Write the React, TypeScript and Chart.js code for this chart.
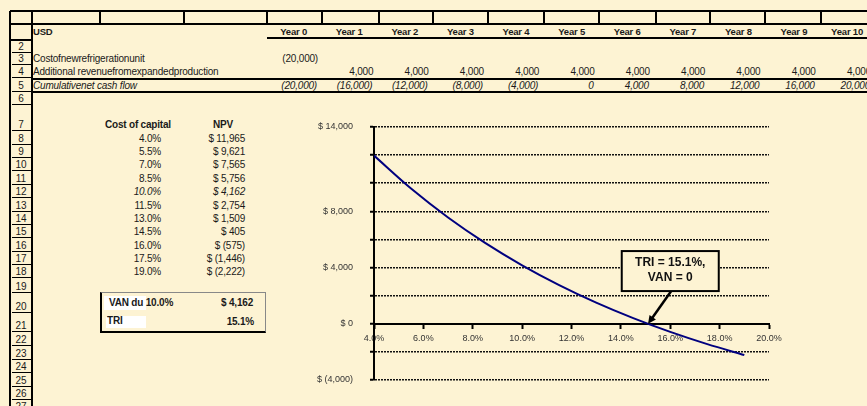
import React, { useEffect, useRef } from "react";
import { Chart, registerables } from "chart.js";

Chart.register(...registerables);

const BG = "#FDF3D3";
const FONT = 'Arial, "Liberation Sans", sans-serif';
const INK = "#1a1a1a";

// ---------- data ----------
const yearLabels = ["Year 0", "Year 1", "Year 2", "Year 3", "Year 4", "Year 5", "Year 6", "Year 7", "Year 8", "Year 9", "Year 10"];
const unitCost: (number | null)[] = [-20000, null, null, null, null, null, null, null, null, null, null];
const addRevenue: (number | null)[] = [null, 4000, 4000, 4000, 4000, 4000, 4000, 4000, 4000, 4000, 4000];
const cumulativeCF = [-20000, -16000, -12000, -8000, -4000, 0, 4000, 8000, 12000, 16000, 20000];
const rowTitles = ["USD", "Costofnewrefrigerationunit", "Additional revenuefromexpandedproduction", "Cumulativenet cash flow"];

const rates = [4.0, 5.5, 7.0, 8.5, 10.0, 11.5, 13.0, 14.5, 16.0, 17.5, 19.0];
const npvValues = [11965, 9621, 7565, 5756, 4162, 2754, 1509, 405, -575, -1446, -2222];
const shownYTicks = [14000, 8000, 4000, 0, -4000];
const vanRate = 10.0;
const vanValue = 4162;
const irr = 15.1;
const noteLines = ["TRI = 15.1%,", "VAN = 0"];

// ---------- layout ----------
const ROW_Y: Record<number, number> = {
  2: 47, 3: 59, 4: 72, 5: 86, 6: 99, 7: 125, 8: 139, 9: 152, 10: 165, 11: 179, 12: 192,
  13: 206, 14: 219, 15: 232, 16: 246, 17: 259, 18: 272, 19: 287, 20: 307, 21: 326,
  22: 340, 23: 354, 24: 367, 25: 381, 26: 394, 27: 407,
};
const HEADER_DIVIDERS = [32, 100, 184, 267, 322, 379, 433, 488, 544, 599, 656, 710, 765, 821];

function fmtParen(v: number) {
  const s = Math.abs(v).toLocaleString("en-US");
  return v < 0 ? `(${s})` : s;
}
function fmtDollar(v: number) {
  return "$ " + fmtParen(v);
}

type TxtProps = { x: number; y: number; text: string; align?: "left" | "right" | "center"; bold?: boolean; italic?: boolean; size?: number; color?: string; ls?: number };
function Txt({ x, y, text, align = "left", bold, italic, size = 10, color = INK, ls = -0.2 }: TxtProps) {
  const w = 300;
  const left = align === "left" ? x : align === "right" ? x - w : x - w / 2;
  return (
    <div
      style={{
        position: "absolute", left, top: y - 7, width: w, height: 14, lineHeight: "14px",
        textAlign: align, fontSize: size, fontWeight: bold ? "bold" : "normal",
        fontStyle: italic ? "italic" : "normal", color, whiteSpace: "nowrap", fontFamily: FONT,
        letterSpacing: ls,
      }}
    >
      {text}
    </div>
  );
}
function HL({ x1, x2, y, w = 2, c = "#000" }: { x1: number; x2: number; y: number; w?: number; c?: string }) {
  return <div style={{ position: "absolute", left: x1, top: y - w / 2, width: x2 - x1, height: w, background: c }} />;
}
function VL({ x, y1, y2, w = 2, c = "#000" }: { x: number; y1: number; y2: number; w?: number; c?: string }) {
  return <div style={{ position: "absolute", left: x - w / 2, top: y1, width: w, height: y2 - y1, background: c }} />;
}

const notePlugin = {
  id: "irrNote",
  afterDatasetsDraw(chart: any) {
    const { ctx, scales } = chart;
    const xs = scales.x, ys = scales.y;
    const tipX = xs.getPixelForValue(irr);
    const tipY = ys.getPixelForValue(0);
    const cx = xs.getPixelForValue(16.0);
    const cy = ys.getPixelForValue(3750);
    const bw = 97, bh = 40;
    ctx.save();
    const sx = cx + 1, sy = cy + bh / 2;
    const ang = Math.atan2(tipY - sy, tipX - sx);
    const headLen = 9;
    const ex = tipX - Math.cos(ang) * headLen * 0.8;
    const ey = tipY - Math.sin(ang) * headLen * 0.8;
    ctx.strokeStyle = "#000";
    ctx.lineWidth = 2.5;
    ctx.beginPath();
    ctx.moveTo(sx, sy);
    ctx.lineTo(ex, ey);
    ctx.stroke();
    ctx.fillStyle = "#000";
    ctx.beginPath();
    ctx.moveTo(tipX, tipY);
    ctx.lineTo(tipX - Math.cos(ang - 0.45) * headLen, tipY - Math.sin(ang - 0.45) * headLen);
    ctx.lineTo(tipX - Math.cos(ang + 0.45) * headLen, tipY - Math.sin(ang + 0.45) * headLen);
    ctx.closePath();
    ctx.fill();
    ctx.fillStyle = BG;
    ctx.fillRect(cx - bw / 2, cy - bh / 2, bw, bh);
    ctx.lineWidth = 2;
    ctx.strokeRect(cx - bw / 2, cy - bh / 2, bw, bh);
    ctx.fillStyle = "#111";
    ctx.font = `bold 12px ${FONT}`;
    ctx.textAlign = "center";
    ctx.textBaseline = "middle";
    ctx.fillText(noteLines[0], cx, cy - 8);
    ctx.fillText(noteLines[1], cx, cy + 7);
    ctx.restore();
  },
};

function NpvChart() {
  const ref = useRef<HTMLCanvasElement>(null);
  useEffect(() => {
    if (!ref.current) return;
    const chart = new Chart(ref.current, {
      type: "line",
      data: {
        datasets: [
          {
            data: rates.map((r, i) => ({ x: r, y: npvValues[i] })),
            borderColor: "#00007F",
            borderWidth: 2,
            pointRadius: 0,
            cubicInterpolationMode: "monotone",
            fill: false,
          },
        ],
      },
      options: {
        animation: false,
        responsive: false,
        events: [],
        layout: { padding: { left: 314, top: 127, right: 98, bottom: 26 } },
        plugins: { legend: { display: false }, tooltip: { enabled: false } },
        scales: {
          x: {
            type: "linear",
            position: { y: 0 } as any,
            min: 4,
            max: 20,
            border: { display: true, color: "#000", width: 2 },
            grid: { drawOnChartArea: false, drawTicks: true, tickLength: 4, tickColor: "#000", tickWidth: 2 },
            ticks: {
              stepSize: 2,
              autoSkip: false,
              maxRotation: 0,
              padding: 5,
              color: "#333",
              font: { family: FONT, size: 9 },
              callback: (v: any) => Number(v).toFixed(1) + "%",
            },
          },
          y: {
            type: "linear",
            min: -4000,
            max: 14000,
            afterFit: (s: any) => { s.width = 60; },
            border: { display: true, color: "#000", width: 2, dash: [2, 1] },
            grid: {
              color: "#111",
              lineWidth: 1.5,
              drawTicks: true,
              tickLength: 4,
              tickColor: "#000",
              tickWidth: 2,
              tickBorderDash: [],
            },
            ticks: {
              stepSize: 2000,
              autoSkip: false,
              padding: 17,
              color: "#333",
              font: { family: FONT, size: 9 },
              callback: (v: any) => (shownYTicks.includes(Number(v)) ? fmtDollar(Number(v)) : ""),
            },
          },
        },
      },
      plugins: [notePlugin],
    } as any);
    return () => chart.destroy();
  }, []);
  return <canvas ref={ref} width={867} height={406} style={{ position: "absolute", left: 0, top: 0, width: 867, height: 406 }} />;
}

export default function App() {
  const colHeaderRight = (i: number) => 307 + i * 55.6;
  const colValueRight = (i: number) => 318 + i * 55.3;
  const rowNums = Object.keys(ROW_Y).map(Number);
  return (
    <div style={{ position: "fixed", left: 0, top: 0, width: 867, height: 406, background: BG, overflow: "hidden", fontFamily: FONT }}>
      <HL x1={10} x2={867} y={11} w={2} />
      <HL x1={10} x2={867} y={24} w={2} />
      {HEADER_DIVIDERS.map((x) => (
        <VL key={"hd" + x} x={x} y1={11} y2={24} w={[32, 267, 488, 599, 765].includes(x) ? 2 : 1.5} />
      ))}
      <VL x={10} y1={11} y2={406} w={2} />
      <VL x={32} y1={11} y2={406} w={2} />
      <HL x1={10} x2={32} y={40} w={1.5} />
      <HL x1={267} x2={867} y={38} w={2} />
      <HL x1={32} x2={867} y={79} w={1.5} />
      <HL x1={32} x2={867} y={92} w={2} />
      {rowNums.map((r) => (
        <React.Fragment key={"rn" + r}>
          <Txt x={21} y={ROW_Y[r]} text={String(r)} align="center" ls={0} />
          <HL x1={12} x2={31} y={ROW_Y[r] + 5.5} w={1.5} />
        </React.Fragment>
      ))}

      <Txt x={33} y={32} text={rowTitles[0]} bold size={9.5} />
      {yearLabels.map((y, i) => (
        <Txt key={"yl" + i} x={colHeaderRight(i)} y={32} text={y} align="right" bold size={9.5} />
      ))}
      <Txt x={33} y={ROW_Y[3]} text={rowTitles[1]} />
      <Txt x={33} y={ROW_Y[4]} text={rowTitles[2]} />
      <Txt x={33} y={ROW_Y[5]} text={rowTitles[3]} italic />
      {unitCost.map((v, i) => (v === null ? null : <Txt key={"uc" + i} x={colValueRight(i)} y={ROW_Y[3]} text={fmtParen(v)} align="right" />))}
      {addRevenue.map((v, i) => (v === null ? null : <Txt key={"ar" + i} x={colValueRight(i)} y={ROW_Y[4]} text={fmtParen(v)} align="right" />))}
      {cumulativeCF.map((v, i) => (
        <Txt key={"cf" + i} x={colValueRight(i) - 1} y={ROW_Y[5]} text={fmtParen(v)} align="right" italic />
      ))}

      <Txt x={105} y={ROW_Y[7]} text="Cost of capital" bold />
      <Txt x={223} y={ROW_Y[7]} text="NPV" bold align="center" />
      {rates.map((r, i) => (
        <React.Fragment key={"rt" + i}>
          <Txt x={161} y={ROW_Y[8 + i]} text={r.toFixed(1) + "%"} align="right" italic={r === vanRate} />
          <Txt x={245} y={ROW_Y[8 + i]} text={fmtDollar(npvValues[i])} align="right" italic={r === vanRate} />
        </React.Fragment>
      ))}

      <div style={{ position: "absolute", left: 100, top: 292, width: 166, height: 41, boxSizing: "border-box", borderTop: "1px solid #888", borderRight: "1px solid #888", borderLeft: "2px solid #000", borderBottom: "2px solid #000" }} />
      <div style={{ position: "absolute", left: 104, top: 296, width: 42, height: 14, background: "#fff" }} />
      <div style={{ position: "absolute", left: 106, top: 316, width: 40, height: 12, background: "#fff" }} />
      <Txt x={109} y={303} text={"VAN du " + vanRate.toFixed(1) + "%"} bold />
      <Txt x={253} y={303} text={fmtDollar(vanValue)} bold align="right" />
      <Txt x={107} y={321} text="TRI" bold />
      <Txt x={254} y={322} text={irr.toFixed(1) + "%"} bold align="right" />

      <NpvChart />
    </div>
  );
}
